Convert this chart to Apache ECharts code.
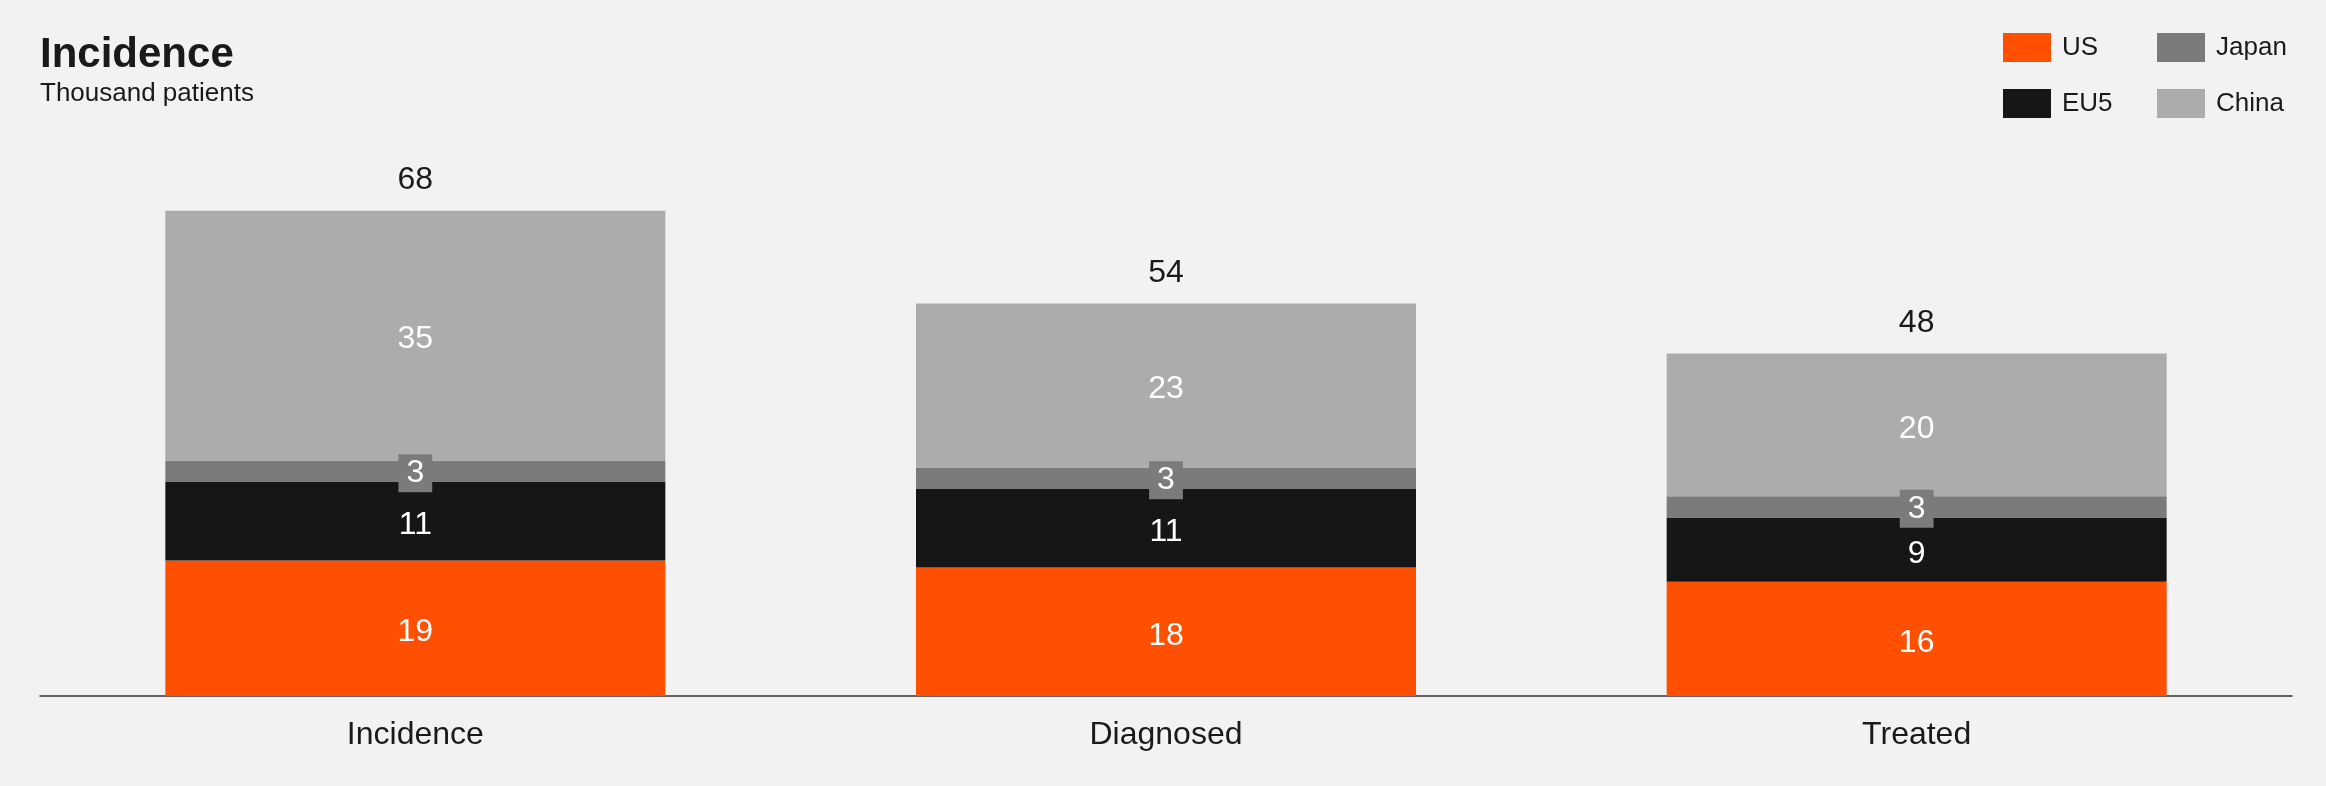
<!DOCTYPE html>
<html>
<head>
<meta charset="utf-8">
<script src="https://cdn.jsdelivr.net/npm/echarts@6/dist/echarts.min.js"></script>
<style>
  html, body { margin: 0; padding: 0; background: #f2f2f2; }
  #chart { width: 2326px; height: 786px; }
</style>
</head>
<body>
<div id="chart"></div>
<script>
// data
const categories = ["Incidence", "Diagnosed", "Treated"];
const usValues = [19, 18, 16];
const eu5Values = [11, 11, 9];
const japanValues = [3, 3, 3];
const chinaValues = [35, 23, 20];
const totalLabels = [68, 54, 48];
const totalAnchor = [0, 0, 0]; // zero-height bar that carries the total label

const FONT = "Liberation Sans, Arial, sans-serif";
const TXT = "#1a1a1a";

const chart = echarts.init(document.getElementById("chart"));

function segment(name, data, color, extraLabel) {
  return {
    name: name,
    type: "bar",
    stack: "total",
    data: data,
    barWidth: 500,
    itemStyle: { color: color },
    label: Object.assign({
      show: true,
      position: "inside",
      offset: [0, 4],
      color: "#ffffff",
      fontFamily: FONT,
      fontSize: 32,
    }, extraLabel || {}),
  };
}

const legendText = { fontFamily: FONT, fontSize: 26, color: TXT, padding: [3, 0, 0, 6] };

const option = {
  backgroundColor: "#f2f2f2",
  animation: false,
  title: {
    text: "Incidence",
    subtext: "Thousand patients",
    left: 40,
    top: 34,
    itemGap: 5,
    padding: 0,
    textStyle: { fontFamily: FONT, fontSize: 42, fontWeight: "bold", color: TXT },
    subtextStyle: { fontFamily: FONT, fontSize: 26, color: TXT },
  },
  legend: [
    {
      data: ["US", "EU5"],
      orient: "vertical",
      left: 2003,
      top: 33,
      padding: 0,
      itemGap: 27,
      itemWidth: 48,
      itemHeight: 29,
      icon: "rect",
      textStyle: legendText,
    },
    {
      data: ["Japan", "China"],
      orient: "vertical",
      left: 2157,
      top: 33,
      padding: 0,
      itemGap: 27,
      itemWidth: 48,
      itemHeight: 29,
      icon: "rect",
      textStyle: legendText,
    },
  ],
  grid: {
    left: 40,
    right: 34,
    top: 125,
    bottom: 90,
    containLabel: false,
  },
  xAxis: {
    type: "category",
    data: categories,
    axisTick: { show: false },
    axisLine: { lineStyle: { color: "#333333", width: 1.5 } },
    axisLabel: { fontFamily: FONT, fontSize: 32, color: TXT, margin: 23 },
  },
  yAxis: {
    type: "value",
    min: 0,
    max: 80,
    show: false,
    splitLine: { show: false },
  },
  series: [
    segment("US", usValues, "#ff4f00"),
    segment("EU5", eu5Values, "#161616"),
    segment("Japan", japanValues, "#7b7b7b", {
      backgroundColor: "#7b7b7b",
      padding: [3, 8, 3, 8],
      offset: [0, 2],
    }),
    segment("China", chinaValues, "#acacac"),
    {
      name: "Total",
      type: "bar",
      stack: "total",
      data: totalAnchor,
      barWidth: 500,
      itemStyle: { color: "transparent" },
      label: {
        show: true,
        position: "top",
        distance: 14,
        fontFamily: FONT,
        fontSize: 32,
        color: TXT,
        formatter: function (p) { return totalLabels[p.dataIndex]; },
      },
    },
  ],
};

chart.setOption(option);
</script>
</body>
</html>
